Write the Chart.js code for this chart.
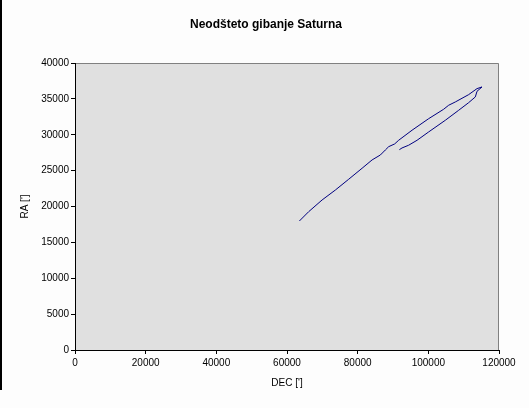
<!DOCTYPE html>
<html>
<head>
<meta charset="utf-8">
<script src="https://cdn.jsdelivr.net/npm/chart.js@4/dist/chart.umd.min.js"></script>
<style>
  html, body { margin: 0; padding: 0; background: #fdfdfd; }
  #wrap { width: 529px; height: 408px; position: relative; }
</style>
</head>
<body>
<div id="wrap"><canvas id="c" width="529" height="408"></canvas></div>
<script>
const chartTitle = "Neodšteto gibanje Saturna";
const xAxisTitle = "DEC [']";
const yAxisTitle = "RA [']";
const decValues = [63510, 66140, 69930, 73700, 77460, 81250, 84080, 86430, 87840, 88780, 90470, 91600, 95390, 100090, 104330, 105750, 107640, 111400, 113780, 115190, 113780, 113300, 111400, 108580, 104810, 100090, 96810, 94430, 92560, 91800];
const raValues  = [17980, 19280, 20910, 22300, 23800, 25330, 26490, 27180, 27880, 28340, 28720, 29230, 30630, 32240, 33550, 34110, 34570, 35590, 36430, 36660, 36060, 35270, 34470, 33410, 32020, 30390, 29230, 28540, 28160, 27920];
const xTicks = [0, 20000, 40000, 60000, 80000, 100000, 120000];
const yTicks = [0, 5000, 10000, 15000, 20000, 25000, 30000, 35000, 40000];

const points = decValues.map((x, i) => ({ x: x, y: raValues[i] }));

Chart.defaults.font.family = "'Liberation Sans', Arial, sans-serif";
Chart.defaults.color = '#000';

const bgPlugin = {
  id: 'bg',
  beforeDraw(chart) {
    const ctx = chart.ctx;
    const a = chart.chartArea;
    ctx.save();
    ctx.fillStyle = '#fdfdfd';
    ctx.fillRect(0, 0, chart.width, chart.height);
    ctx.fillStyle = '#000';
    ctx.fillRect(0, 0, 2, 390);
    ctx.fillStyle = '#e0e0e0';
    ctx.fillRect(a.left, a.top, a.right - a.left, a.bottom - a.top);
    ctx.strokeStyle = '#808080';
    ctx.lineWidth = 1;
    ctx.beginPath();
    ctx.moveTo(a.left, a.top + 0.5);
    ctx.lineTo(a.right - 0.5, a.top + 0.5);
    ctx.lineTo(a.right - 0.5, a.bottom);
    ctx.stroke();
    ctx.restore();
  },
  afterDraw(chart) {
    const ctx = chart.ctx;
    ctx.save();
    ctx.fillStyle = '#000';
    ctx.font = "bold 12px 'Liberation Sans', Arial, sans-serif";
    ctx.textAlign = 'center';
    ctx.textBaseline = 'middle';
    ctx.fillText(chartTitle, 266, 25);
    ctx.restore();
  }
};

new Chart(document.getElementById('c'), {
  type: 'scatter',
  data: {
    datasets: [{
      data: points,
      showLine: true,
      borderColor: '#000080',
      borderWidth: 1,
      pointRadius: 0,
      tension: 0,
      fill: false
    }]
  },
  options: {
    responsive: false,
    animation: false,
    devicePixelRatio: 1,
    layout: { padding: { left: 0, right: 30, top: 63, bottom: 0 } },
    plugins: {
      legend: { display: false },
      tooltip: { enabled: false },
      title: { display: false }
    },
    scales: {
      x: {
        type: 'linear',
        min: xTicks[0],
        max: xTicks[xTicks.length - 1],
        afterBuildTicks: s => { s.ticks = xTicks.map(v => ({ value: v })); },
        afterFit: s => { s.height = 58; },
        grid: { display: true, drawOnChartArea: false, drawTicks: true, tickLength: 4, color: '#000' },
        border: { display: true, color: '#000', width: 1 },
        ticks: { font: { size: 10 }, color: '#000', padding: 3, maxRotation: 0, callback: v => String(v) },
        title: { display: true, text: xAxisTitle, font: { size: 10 }, color: '#000', padding: { top: 0, bottom: 19 } }
      },
      y: {
        type: 'linear',
        min: yTicks[0],
        max: yTicks[yTicks.length - 1],
        afterBuildTicks: s => { s.ticks = yTicks.map(v => ({ value: v })); },
        afterFit: s => { s.width = 75; },
        grid: { display: true, drawOnChartArea: false, drawTicks: true, tickLength: 4, color: '#000' },
        border: { display: true, color: '#000', width: 1 },
        ticks: { font: { size: 10 }, color: '#000', padding: 2, callback: v => String(v) },
        title: { display: true, text: yAxisTitle, font: { size: 10 }, color: '#000', padding: { top: 19, bottom: 0 } }
      }
    }
  },
  plugins: [bgPlugin]
});
</script>
</body>
</html>
